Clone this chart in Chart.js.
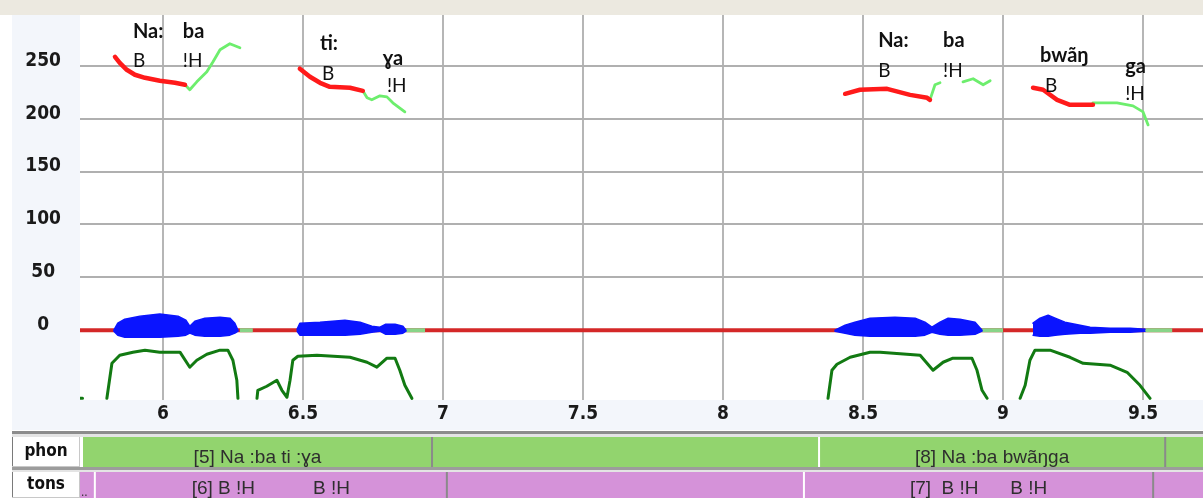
<!DOCTYPE html>
<html>
<head>
<meta charset="utf-8">
<script src="https://cdn.jsdelivr.net/npm/chart.js@4/dist/chart.umd.min.js"></script>
<style>
  html, body { margin: 0; padding: 0; background: #fff; }
  canvas { display: block; }
</style>
</head>
<body>
<canvas id="chart" width="1203" height="498"></canvas>
<script>
// axis ticks
const xTicks = [6, 6.5, 7, 7.5, 8, 8.5, 9, 9.5];
const xTickLabels = ["6", "6.5", "7", "7.5", "8", "8.5", "9", "9.5"];
const yTicks = [0, 50, 100, 150, 200, 250];
const yTickLabels = ["0", "50", "100", "150", "200", "250"];

// pitch (Hz), red = B syllables, green = !H syllables (null = break)
const pitchRedT = [5.829, 5.846, 5.871, 5.900, 5.936, 5.989, 6.043, 6.079, 6.2,
  6.489, 6.525, 6.561, 6.596, 6.668, 6.714, 7.5,
  8.436, 8.489, 8.586, 8.668, 8.729, 8.739, 8.9,
  9.107, 9.143, 9.193, 9.239, 9.321];
const pitchRedHz = [258.5, 252.8, 246.2, 241.5, 238.6, 235.8, 233.9, 232.0, null,
  247.2, 239.6, 233.9, 230.1, 229.2, 226.3, null,
  223.5, 227.3, 228.2, 222.5, 219.7, 217.8, null,
  229.2, 227.3, 217.8, 213.1, 213.1];
const pitchGreenT = [6.079, 6.096, 6.121, 6.157, 6.179, 6.204, 6.239, 6.275, 6.4,
  6.714, 6.729, 6.746, 6.775, 6.8, 6.821, 6.864, 7.5,
  8.739, 8.757, 8.775, 8.8, 8.857, 8.893, 8.929, 8.954, 9.1,
  9.321, 9.407, 9.464, 9.5, 9.518];
const pitchGreenHz = [232.0, 227.3, 234.8, 244.3, 253.8, 265.2, 270.8, 267.0, null,
  226.3, 219.7, 217.8, 221.6, 220.6, 215.0, 206.4, null,
  217.8, 232.0, 233.9, null, 234.8, 237.7, 232.0, 235.8, null,
  215.0, 215.0, 212.1, 206.4, 194.1];

// waveform envelope around 0
const waveT = [5.825, 5.839, 5.864, 5.918, 5.989, 6.054, 6.082, 6.096, 6.114, 6.150, 6.204, 6.239, 6.257, 6.268, 6.4,
  6.479, 6.489, 6.561, 6.65, 6.704, 6.746, 6.775, 6.796, 6.829, 6.857, 6.868, 7.5,
  8.4, 8.436, 8.471, 8.525, 8.614, 8.686, 8.721, 8.746, 8.775, 8.804, 8.846, 8.9, 8.925, 9.0,
  9.107, 9.132, 9.161, 9.186, 9.221, 9.275, 9.311, 9.382, 9.454, 9.507];
const waveTop = [0, 6.6, 10.4, 13.3, 15.2, 13.3, 9.5, 3.8, 8.5, 11.4, 12.3, 11.4, 6.6, 0, null,
  0.9, 6.6, 7.6, 9.5, 7.6, 3.8, 2.8, 5.7, 5.7, 3.8, 0, null,
  0, 4.7, 7.6, 11.4, 12.3, 11.4, 7.6, 2.8, 7.6, 11.4, 10.4, 7.6, 0, null,
  6.6, 11.4, 14.2, 11.4, 7.6, 4.7, 2.8, 1.9, 1.9, 0.9];
const waveBottom = [-0.9, -4.7, -6.6, -6.6, -6.6, -5.7, -4.7, -2.8, -4.7, -5.7, -5.7, -4.7, -2.8, -0.9, null,
  -0.9, -4.7, -4.7, -4.7, -3.8, -1.9, -0.9, -3.8, -3.8, -2.8, -0.9, null,
  -0.9, -2.8, -4.7, -5.7, -5.7, -5.7, -4.7, -1.9, -3.8, -4.7, -4.7, -3.8, -0.9, null,
  -4.7, -5.7, -5.7, -4.7, -3.8, -2.8, -2.8, -1.9, -1.9, -0.9];

// baseline: silence (red) and pauses (green)
const silenceT = [5.704, 9.714];
const silenceV = [0, 0];
const pauseT = [6.275, 6.321, 6.35, 6.868, 6.936, 7.5, 8.925, 9.0, 9.05, 9.507, 9.604];
const pauseV = [0, 0, null, 0, 0, null, 0, 0, null, 0, 0];

// intensity curve
const intT = [5.706, 5.713, 5.75, 5.8, 5.818, 5.846, 5.893, 5.936, 5.989, 6.061, 6.096, 6.121, 6.157, 6.204, 6.232, 6.25, 6.264, 6.268, 6.3,
  6.336, 6.339, 6.371, 6.407, 6.425, 6.443, 6.454, 6.464, 6.482, 6.55, 6.668, 6.729, 6.764, 6.8, 6.829, 6.846, 6.864, 6.889, 7.5,
  8.375, 8.389, 8.407, 8.454, 8.525, 8.561, 8.704, 8.75, 8.786, 8.821, 8.889, 8.907, 8.925, 8.943, 9.0,
  9.061, 9.079, 9.096, 9.114, 9.168, 9.239, 9.286, 9.382, 9.443, 9.489, 9.525];
const intV = [-64.4, -64.4, null, -64.4, -31.3, -23.7, -20.8, -18.9, -20.8, -20.8, -35.0, -28.4, -22.7, -18.9, -18.9, -28.4, -47.3, -64.4, null,
  -64.4, -56.8, -53.0, -47.3, -56.8, -63.4, -47.3, -28.4, -24.6, -23.7, -25.6, -30.3, -35.0, -26.5, -26.5, -37.9, -52.1, -64.4, null,
  -64.4, -37.9, -32.2, -25.6, -20.8, -20.8, -23.7, -37.9, -30.3, -26.5, -26.5, -37.9, -56.8, -64.4, null,
  -64.4, -52.1, -28.4, -18.9, -18.9, -25.6, -31.3, -33.1, -39.8, -52.1, -64.4];

// syllable + tone labels over the pitch track
const words = ["Na:", "ba", "ti:", "ɣa", "Na:", "ba", "bwãŋ", "ga"];
const wordT = [5.893, 6.071, 6.561, 6.786, 8.554, 8.786, 9.132, 9.436];
const wordHz = [276.5, 276.5, 265, 251, 268, 268, 253.8, 243];
const tones = ["B", "!H", "B", "!H", "B", "!H", "B", "!H"];
const toneT = [5.893, 6.071, 6.568, 6.8, 8.554, 8.786, 9.15, 9.436];
const toneHz = [249, 249, 236.7, 225.4, 239.6, 239.6, 225.4, 217.8];

// annotation tiers (interval start / end in seconds, null = off screen)
const phonStart = [null, 8.343];
const phonEnd = [6.961, 9.579];
const phonText = ["[5] Na :ba ti :ɣa", "[8] Na :ba bwãŋga"];
const tonsStart = [5.757, 8.289];
const tonsEnd = [7.014, 9.536];
const tonsText = ["[6] B !H           B !H", "[7]  B !H      B !H"];

const narrow = "'Liberation Sans Narrow', 'DejaVu Sans Condensed', 'Arial Narrow', sans-serif";
const toSeries = (ts, vs) => ts.map((t, i) => ({ x: t, y: vs[i] }));

const backdrop = {
  id: "backdrop",
  beforeDraw(chart) {
    const c = chart.ctx;
    const a = chart.chartArea;
    c.save();
    c.fillStyle = "#fff";
    c.fillRect(0, 0, chart.width, chart.height);
    c.fillStyle = "#ece9e0";
    c.fillRect(0, 0, chart.width, a.top);
    c.fillStyle = "#f3f6fb";
    c.fillRect(12, a.top, a.left - 12, a.bottom - a.top + 30);
    c.fillRect(12, a.bottom, chart.width - 12, 30);
    c.restore();
  },
};

const syllables = {
  id: "syllables",
  afterDatasetsDraw(chart) {
    const { ctx: c, scales: { x, y } } = chart;
    c.save();
    c.fillStyle = "#111";
    c.textAlign = "left";
    c.textBaseline = "alphabetic";
    words.forEach((w, i) => {
      c.font = "bold 20px Lato, 'Noto Sans', sans-serif";
      c.fillText(w, x.getPixelForValue(wordT[i]), y.getPixelForValue(wordHz[i]));
      c.font = "19px Lato, 'Noto Sans', sans-serif";
      c.fillText(tones[i], x.getPixelForValue(toneT[i]), y.getPixelForValue(toneHz[i]));
    });
    c.restore();
  },
};

function drawTier(c, x, top, h, color, starts, ends, texts, left, right) {
  c.fillStyle = color;
  c.fillRect(left, top, right - left, h);
  c.font = "19px 'Liberation Sans', Arial, sans-serif";
  c.textAlign = "center";
  c.textBaseline = "alphabetic";
  texts.forEach((t, i) => {
    const x0 = starts[i] === null ? left : x.getPixelForValue(starts[i]);
    const x1 = x.getPixelForValue(ends[i]);
    if (starts[i] !== null) {
      c.fillStyle = "#fff";
      c.fillRect(x0 - 1, top, 2, h);
    }
    c.fillStyle = "#8a8a8a";
    c.fillRect(x1 - 1, top, 2, h);
    c.fillStyle = "#2e2e2e";
    c.fillText(t, (x0 + x1) / 2, top + h - 4);
  });
}

function drawTierLabel(c, top, h, name) {
  c.fillStyle = "#fff";
  c.fillRect(12, top, 68, h);
  c.fillStyle = "#7a7a7a";
  c.fillRect(12, top, 1, h);
  c.fillStyle = "#c8c8c8";
  c.fillRect(12, top + h - 1, 68, 1);
  c.fillRect(79, top, 1, h);
  c.fillStyle = "#111";
  c.font = "bold 17px " + narrow;
  c.textAlign = "center";
  c.textBaseline = "middle";
  c.fillText(name, 46, top + h / 2);
}

const tiers = {
  id: "tiers",
  afterDraw(chart) {
    const c = chart.ctx;
    const x = chart.scales.x;
    const a = chart.chartArea;
    const W = chart.width;
    c.save();
    c.fillStyle = "#8c8c8c";
    c.fillRect(12, 431, W - 12, 3);
    c.fillStyle = "#e4e4e4";
    c.fillRect(12, 434, W - 12, 3);
    drawTier(c, x, 437, 30, "#92d46e", phonStart, phonEnd, phonText, a.left + 3, W);
    drawTierLabel(c, 437, 30, "phon");
    c.fillStyle = "#9c9c9c";
    c.fillRect(12, 467, W - 12, 3);
    c.fillStyle = "#e4e4e4";
    c.fillRect(12, 470, W - 12, 2);
    drawTier(c, x, 472, 26, "#d592d9", tonsStart, tonsEnd, tonsText, a.left, W);
    c.fillStyle = "#2e2e2e";
    c.font = "12px 'Liberation Sans', sans-serif";
    c.textAlign = "left";
    c.fillText("..", a.left + 1, 496);
    drawTierLabel(c, 472, 26, "tons");
    c.restore();
  },
};

new Chart(document.getElementById("chart"), {
  type: "line",
  data: {
    datasets: [
      { data: toSeries(pitchRedT, pitchRedHz), borderColor: "#ff1a1a", borderWidth: 4.5 },
      { data: toSeries(pitchGreenT, pitchGreenHz), borderColor: "#6dee6d", borderWidth: 2.8 },
      { data: toSeries(waveT, waveTop), borderColor: "#0a14ff", backgroundColor: "#0a14ff", borderWidth: 1.5, fill: "+1" },
      { data: toSeries(waveT, waveBottom), borderColor: "#0a14ff", borderWidth: 1.5 },
      { data: toSeries(pauseT, pauseV), borderColor: "#88d488", borderWidth: 4, borderCapStyle: "butt" },
      { data: toSeries(silenceT, silenceV), borderColor: "#d42828", borderWidth: 4, borderCapStyle: "butt" },
      { data: toSeries(intT, intV), borderColor: "#127a12", borderWidth: 3 },
    ],
  },
  options: {
    responsive: false,
    animation: false,
    layout: { padding: { top: 15, left: 0, right: 0, bottom: 0 } },
    elements: {
      point: { radius: 0 },
      line: { tension: 0, fill: false, borderCapStyle: "round", borderJoinStyle: "round" },
    },
    plugins: {
      legend: { display: false },
      tooltip: { enabled: false },
      filler: { drawTime: "beforeDatasetDraw" },
    },
    scales: {
      x: {
        type: "linear",
        min: 5.704,
        max: 9.714,
        afterBuildTicks: (s) => { s.ticks = xTicks.map((v) => ({ value: v })); },
        afterFit: (s) => { s.height = 98; s.paddingLeft = 0; s.paddingRight = 0; },
        border: { display: false },
        grid: { color: "#b6b6b6", lineWidth: 2, drawTicks: false },
        ticks: {
          callback: (v, i) => xTickLabels[i],
          color: "#1a1a1a",
          font: { family: narrow, size: 19, weight: "bold" },
          padding: 3,
          maxRotation: 0,
          autoSkip: false,
        },
      },
      y: {
        min: -66,
        max: 298,
        afterBuildTicks: (s) => { s.ticks = yTicks.map((v) => ({ value: v })); },
        afterFit: (s) => { s.width = 80; s.paddingTop = 0; s.paddingBottom = 0; },
        border: { display: false },
        grid: { color: "#b0b0b0", lineWidth: 2, drawTicks: false },
        ticks: {
          callback: (v, i) => yTickLabels[i],
          color: "#1a1a1a",
          font: { family: narrow, size: 19, weight: "bold" },
          crossAlign: "center",
          padding: 19,
          labelOffset: -5,
        },
      },
    },
  },
  plugins: [backdrop, syllables, tiers],
});
</script>
</body>
</html>
